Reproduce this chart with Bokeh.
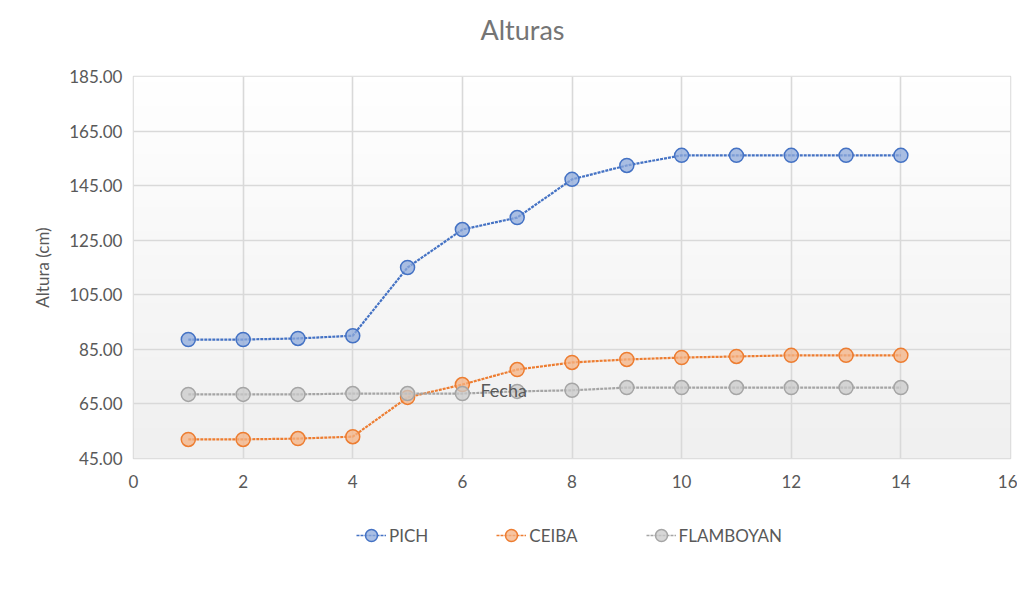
import numpy as np
from bokeh.plotting import figure
from bokeh.layouts import column
from bokeh.models import (ColumnDataSource, FixedTicker, Legend, LegendItem, Label,
                          Range1d, NumeralTickFormatter)
from bokeh.embed import file_html
from bokeh.resources import INLINE

# ---------------- data ----------------
fecha = [1, 2, 3, 4, 5, 6, 7, 8, 9, 10, 11, 12, 13, 14]
pich = [88.6, 88.6, 89.0, 90.0, 115.0, 128.9, 133.3, 147.3, 152.4, 156.1, 156.1, 156.1, 156.1, 156.1]
ceiba = [52.0, 52.0, 52.3, 53.0, 67.4, 72.1, 77.6, 80.2, 81.3, 82.0, 82.4, 82.8, 82.8, 82.8]
flamboyan = [68.5, 68.5, 68.5, 68.8, 68.8, 68.8, 69.6, 70.0, 71.0, 71.0, 71.0, 71.0, 71.0, 71.0]
series_names = ["PICH", "CEIBA", "FLAMBOYAN"]
y_ticks = [45, 65, 85, 105, 125, 145, 165, 185]
x_ticks = [0, 2, 4, 6, 8, 10, 12, 14, 16]

FONT = "Lato"
TXT = "#595959"
W = 1017


def bare(fig):
    fig.outline_line_color = None
    fig.border_fill_color = "white"
    fig.background_fill_color = "white"
    fig.grid.visible = False
    return fig


# ---------- header (title) ----------
head = bare(figure(width=W, height=62, output_backend="svg", toolbar_location=None,
                   x_axis_type=None, y_axis_type=None, min_border=0))
head.title.text = "Alturas"
head.title.align = "left"
head.title.offset = 347
head.title.standoff = 21
head.title.text_font = FONT
head.title.text_font_size = "27px"
head.title.text_font_style = "normal"
head.title.text_color = "#757575"

# ---------- main chart ----------
p = figure(width=W, height=438, output_backend="svg", toolbar_location=None,
           x_range=Range1d(x_ticks[0], x_ticks[-1]), y_range=Range1d(y_ticks[0], y_ticks[-1]),
           min_border_left=133, min_border_right=7, min_border_top=14, min_border_bottom=42)

# background gradient (white top -> light grey bottom)
n = 64
vals = np.linspace(240, 255, n).astype(np.uint32)
img = np.zeros((n, 1), dtype=np.uint32)
img[:, 0] = (np.uint32(255) << 24) | (vals << 16) | (vals << 8) | vals
p.image_rgba(image=[img], x=x_ticks[0], y=y_ticks[0], dw=x_ticks[-1] - x_ticks[0],
             dh=y_ticks[-1] - y_ticks[0], level="image")
p.background_fill_color = "white"
p.border_fill_color = "white"
p.outline_line_color = "#d9d9d9"
p.outline_line_width = 1.5

p.xaxis.ticker = FixedTicker(ticks=x_ticks)
p.yaxis.ticker = FixedTicker(ticks=y_ticks)
p.yaxis.formatter = NumeralTickFormatter(format="0.00")
for ax in (p.xaxis[0], p.yaxis[0]):
    ax.axis_line_color = None
    ax.major_tick_line_color = None
    ax.minor_tick_line_color = None
    ax.major_label_text_font = FONT
    ax.major_label_text_font_size = "17px"
    ax.major_label_text_color = TXT
p.xaxis.major_label_standoff = 10
p.yaxis.major_label_standoff = 5
p.yaxis.axis_label = "Altura (cm)"
p.yaxis.axis_label_text_font = FONT
p.yaxis.axis_label_text_font_size = "17px"
p.yaxis.axis_label_text_font_style = "normal"
p.yaxis.axis_label_text_color = TXT
p.yaxis.axis_label_standoff = 13

p.grid.grid_line_color = "#d9d9d9"
p.grid.grid_line_width = 1.6

# ---------- legend strip ----------
leg = bare(figure(width=W, height=98, output_backend="svg", toolbar_location=None,
                  x_axis_type=None, y_axis_type=None, min_border=0,
                  x_range=Range1d(x_ticks[0], x_ticks[-1]), y_range=Range1d(y_ticks[0], y_ticks[-1])))

colors = [("#4472c4", "#8eaadb"), ("#ed7d31", "#f4b183"), ("#a5a5a5", "#c9c9c9")]
items = []
for name, vals_s, (lc, fc) in zip(series_names, [pich, ceiba, flamboyan], colors):
    src = ColumnDataSource(dict(x=fecha, y=vals_s))
    line_kw = dict(line_color=lc, line_width=2.2, line_dash="3 1")
    mark_kw = dict(marker="circle", size=14, line_color=lc, line_width=1.5,
                   fill_color=fc, fill_alpha=0.75)
    p.line("x", "y", source=src, **line_kw)
    p.scatter("x", "y", source=src, **mark_kw)
    # legend-only placeholder renderers (draw nothing in the strip)
    blank = ColumnDataSource(dict(x=np.array([np.nan]), y=np.array([np.nan])))
    ln = leg.line("x", "y", source=blank, line_color=lc, line_width=1.5, line_dash="3 1")
    sc = leg.scatter("x", "y", source=blank, **mark_kw)
    items.append(LegendItem(label=name, renderers=[ln, sc]))

legend = Legend(items=items, orientation="horizontal", location=(223, 48),
                spacing=68, label_standoff=3, glyph_width=30, glyph_height=30,
                label_text_font=FONT, label_text_font_size="17px", label_text_color=TXT,
                border_line_color=None, background_fill_alpha=0, margin=0, padding=4)
leg.add_layout(legend)

# misplaced x-axis title as in the source chart
p.add_layout(Label(x=6.33, y=70, text="Fecha", text_font=FONT, text_font_size="18px",
                   text_color=TXT, text_baseline="middle"))

layout = column(head, p, leg, spacing=0)
layout.styles = {"box-shadow": "-1px -1px 0 #d9d9d9"}
open("out.html", "w").write(file_html(layout, INLINE))
